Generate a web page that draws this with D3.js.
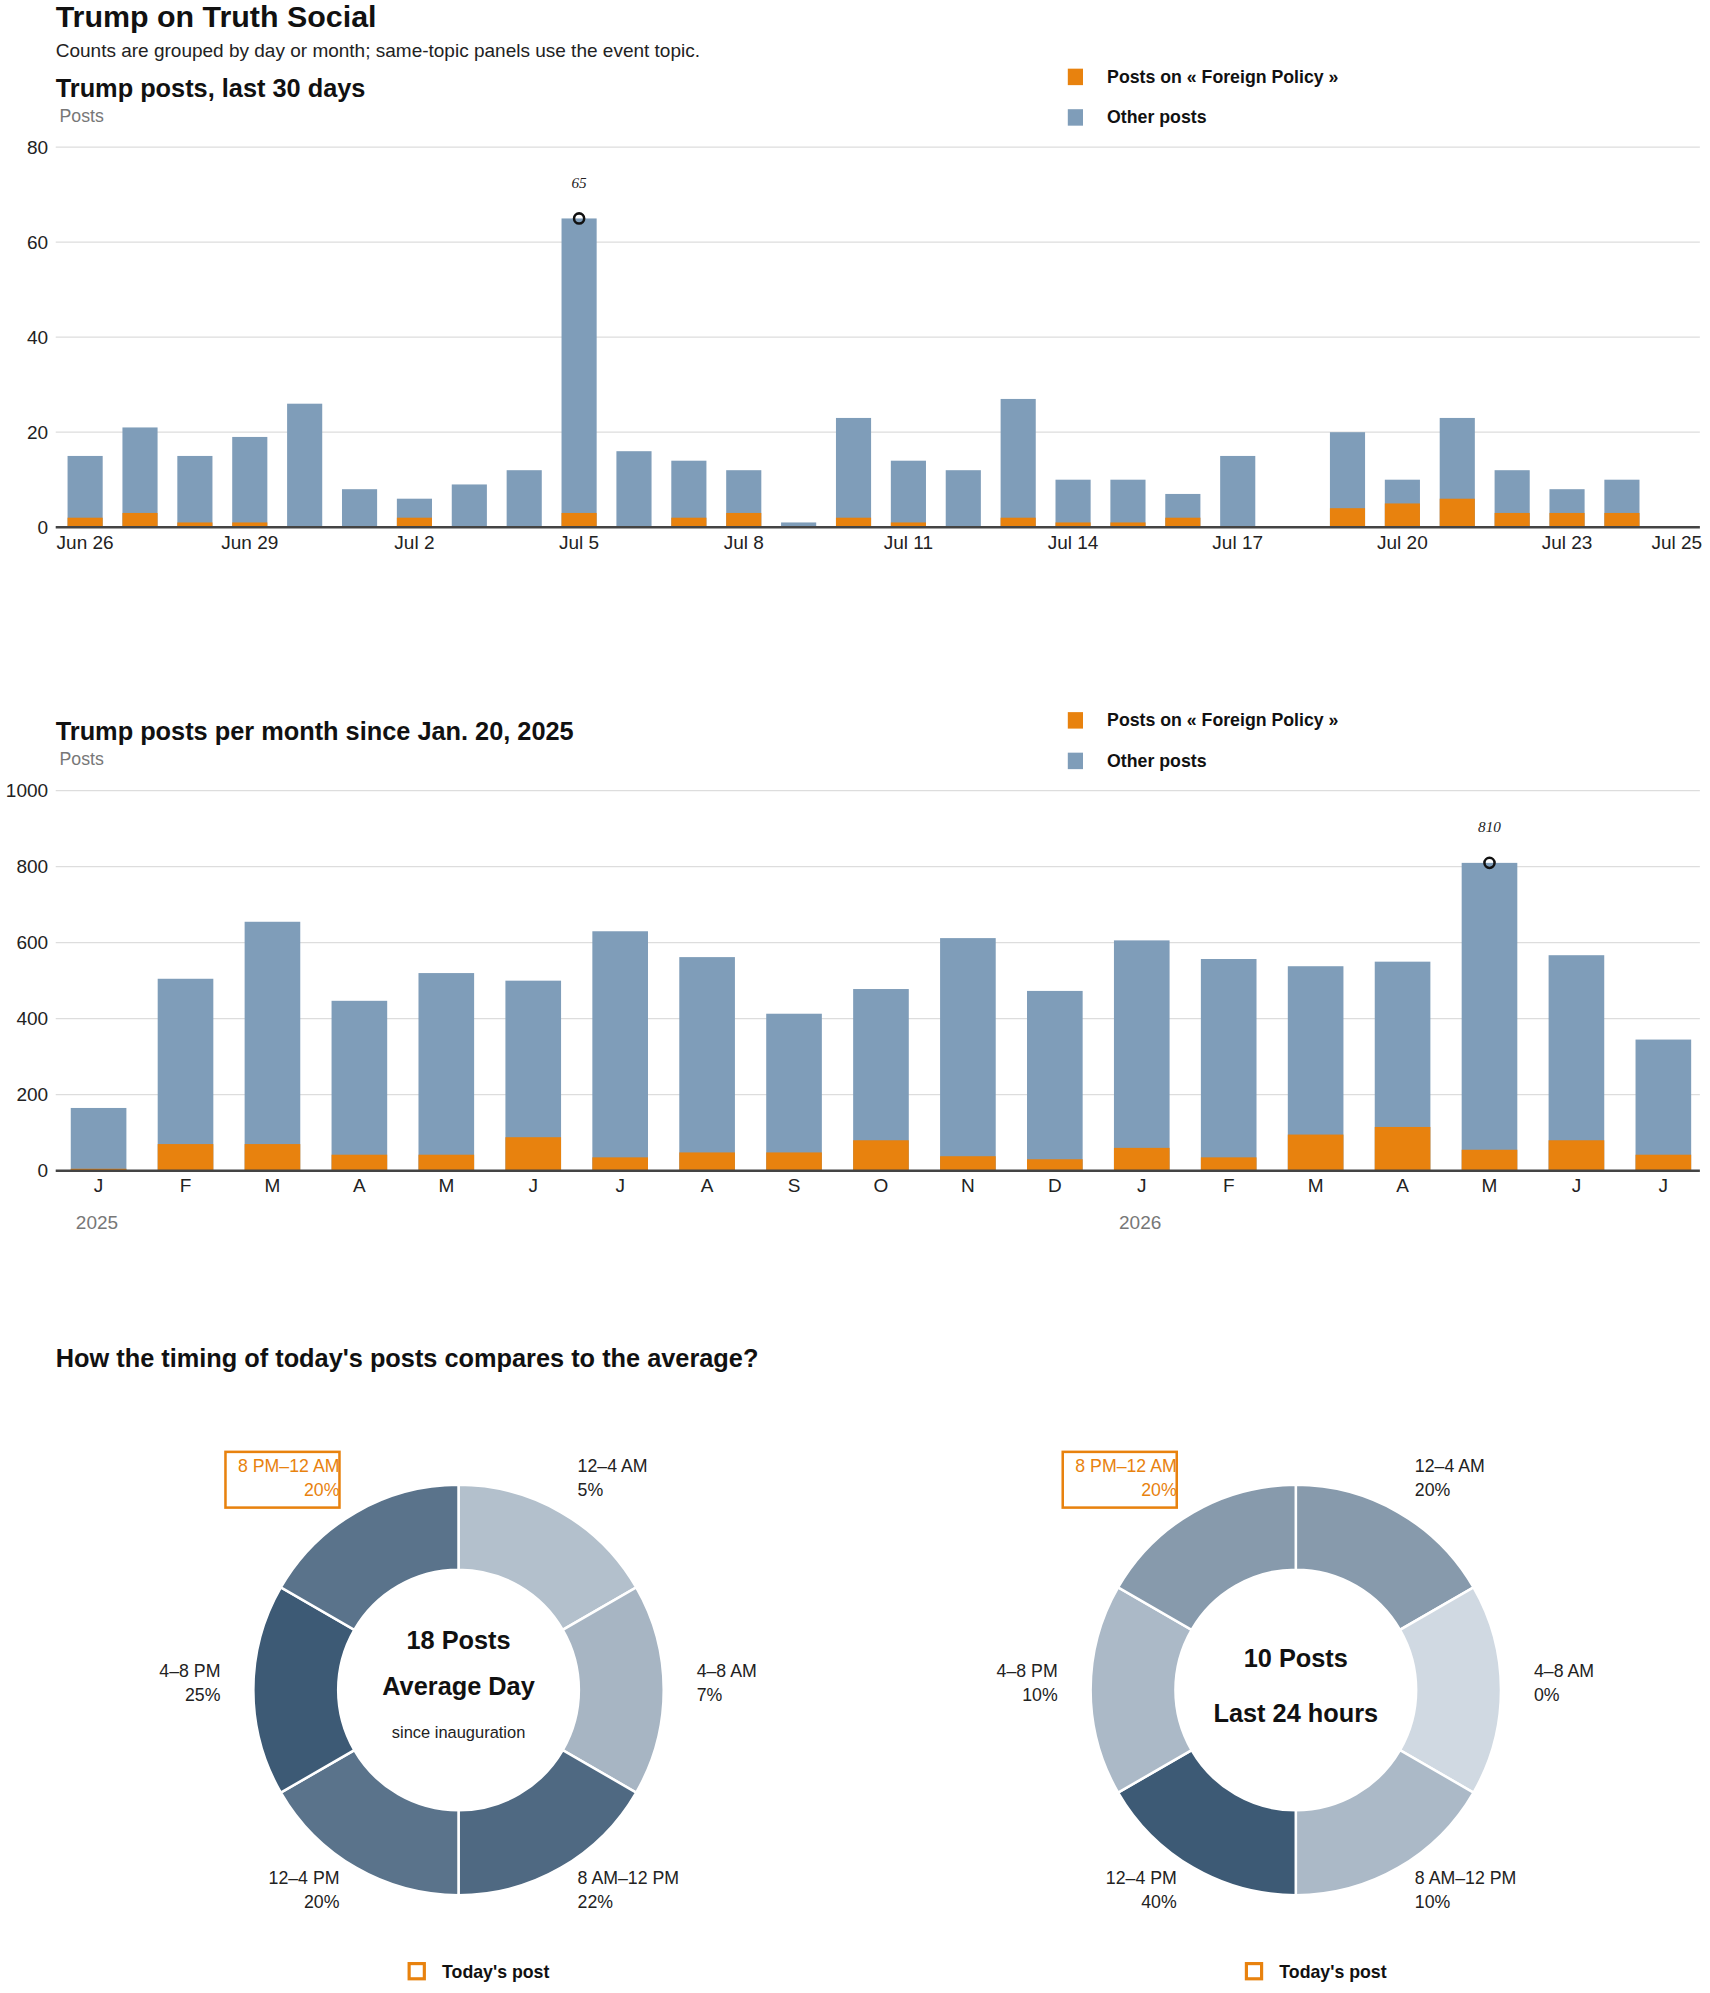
<!DOCTYPE html>
<html><head><meta charset="utf-8">
<script src="https://cdn.jsdelivr.net/npm/d3@7"></script>
<style>
body{margin:0;background:#fff}
text{font-family:"Liberation Sans Narrow","Liberation Sans",sans-serif;fill:#222}
.t{font-weight:bold;fill:#111}
</style></head><body>
<svg id="c" width="1710" height="1993" viewBox="0 0 1350 1573"></svg>
<script>
// daily posts, Jun 26 - Jul 25
const dayStart = new Date(2025, 5, 26);
const dailyTotal = [15,21,15,19,26,8,6,9,12,65,16,14,12,1,23,14,12,27,10,10,7,15,0,20,10,23,12,8,10,0];
const dailyTopic = [2,3,1,1,0,0,2,0,0,3,0,2,3,0,2,1,0,2,1,1,2,0,0,4,5,6,3,3,3,0];
const dayTicks = ["Jun 26","Jun 29","Jul 2","Jul 5","Jul 8","Jul 11","Jul 14","Jul 17","Jul 20","Jul 23","Jul 25"];
const dayTickIdx = [0,3,6,9,12,15,18,21,24,27,29];

// monthly posts since Jan 2025
const months = ["J","F","M","A","M","J","J","A","S","O","N","D","J","F","M","A","M","J","J"];
const monthTotal = [165,505,655,447,520,500,630,562,413,478,612,473,606,557,538,550,810,567,345];
const monthTopic = [5,70,70,42,42,88,35,48,48,80,38,30,60,35,95,115,55,80,42];

// timing donuts
const slots = ["12–4 AM","4–8 AM","8 AM–12 PM","12–4 PM","4–8 PM","8 PM–12 AM"];
const avgShare = [5,7,22,20,25,20];
const todayShare = [20,0,10,40,10,20];

const ORANGE = "#e8820e", BLUE = "#7f9db9";
const svg = d3.select("#c");

svg.append("text").attr("class","t").attr("x",44).attr("y",21).attr("font-size",24).text("Trump on Truth Social");
svg.append("text").attr("x",44).attr("y",45).attr("font-size",15).text("Counts are grouped by day or month; same-topic panels use the event topic.");

function legend(y){
  const g = svg.append("g");
  [[ORANGE,"Posts on « Foreign Policy »"],[BLUE,"Other posts"]].forEach((d,i)=>{
    g.append("rect").attr("x",843).attr("y",y+i*32-6).attr("width",12).attr("height",13).attr("fill",d[0]);
    g.append("text").attr("class","t").attr("x",874).attr("y",y+i*32+5).attr("font-size",14).text(d[1]);
  });
}

function barPanel(opts){
  const {title,top,bottom,ymax,ticks,labels,total,topic,tickLabels,peak} = opts;
  svg.append("text").attr("class","t").attr("x",44).attr("y",top-40).attr("font-size",20).text(title);
  svg.append("text").attr("x",47).attr("y",top-20).attr("font-size",14).attr("fill","#777").style("fill","#777").text("Posts");
  legend(top-56);
  const y = d3.scaleLinear().domain([0,ymax]).range([bottom,top]);
  const x = d3.scaleBand().domain(d3.range(total.length)).range([49,1342]).paddingInner(0.36).paddingOuter(0.1);
  svg.append("g").selectAll("line").data(ticks).join("line")
    .attr("x1",44).attr("x2",1342).attr("y1",d=>y(d)).attr("y2",d=>y(d)).attr("stroke","#ddd");
  svg.append("g").selectAll("text").data(ticks).join("text")
    .attr("x",38).attr("y",d=>y(d)+5).attr("text-anchor","end").attr("font-size",15).text(d=>d);
  svg.append("g").selectAll("rect").data(total).join("rect")
    .attr("x",(d,i)=>x(i)).attr("width",x.bandwidth()).attr("y",d=>y(d)).attr("height",d=>bottom-y(d)).attr("fill",BLUE);
  svg.append("g").selectAll("rect").data(topic).join("rect")
    .attr("x",(d,i)=>x(i)).attr("width",x.bandwidth()).attr("y",d=>y(d)).attr("height",d=>bottom-y(d)).attr("fill",ORANGE);
  svg.append("line").attr("x1",44).attr("x2",1342).attr("y1",bottom).attr("y2",bottom).attr("stroke","#444").attr("stroke-width",2);
  tickLabels.forEach(([i,t])=>{
    svg.append("text").attr("x",x(i)+x.bandwidth()/2).attr("y",bottom+17).attr("text-anchor","middle").attr("font-size",15).text(t);
  });
  const p = total.indexOf(d3.max(total));
  svg.append("circle").attr("cx",x(p)+x.bandwidth()/2).attr("cy",y(total[p])).attr("r",4).attr("fill","none").attr("stroke","#111").attr("stroke-width",2);
  svg.append("text").attr("x",x(p)+x.bandwidth()/2).attr("y",y(total[p])-24).attr("text-anchor","middle")
    .attr("font-size",12).attr("font-style","italic").style("font-family","Liberation Serif,serif").text(total[p]);
  return x;
}

barPanel({title:"Trump posts, last 30 days",top:116,bottom:416,ymax:80,ticks:[0,20,40,60,80],
  total:dailyTotal,topic:dailyTopic,tickLabels:dayTickIdx.map((d,i)=>[d,dayTicks[i]])});
const xm = barPanel({title:"Trump posts per month since Jan. 20, 2025",top:624,bottom:924,ymax:1000,ticks:[0,200,400,600,800,1000],
  total:monthTotal,topic:monthTopic,tickLabels:months.map((m,i)=>[i,m])});
[[0,"2025"],[12,"2026"]].forEach(([i,t])=>{
  svg.append("text").attr("x",xm(i)+4).attr("y",970).attr("font-size",15).style("fill","#777").text(t);
});

svg.append("text").attr("class","t").attr("x",44).attr("y",1079).attr("font-size",20).text("How the timing of today's posts compares to the average?");

function donut(cx,cy,shares,center){
  const g = svg.append("g").attr("transform",`translate(${cx},${cy})`);
  const col = d3.scaleLinear().domain([0,d3.max(shares)]).range(["#d0d9e2","#3d5a75"]);
  const arcs = d3.pie().value(1).sort(null)(shares);
  const arc = d3.arc().innerRadius(95).outerRadius(162);
  g.selectAll("path").data(arcs).join("path").attr("d",arc).attr("fill",d=>col(d.data)).attr("stroke","#fff").attr("stroke-width",2);
  const lp = [[94,-172,"start"],[188,-10,"start"],[94,153,"start"],[-94,153,"end"],[-188,-10,"end"],[-94,-172,"end"]];
  arcs.forEach((a,i)=>{
    const [lx,ly,an] = lp[i];
    const t = g.append("text").attr("x",lx).attr("y",ly).attr("text-anchor",an).attr("font-size",14);
    if(i===5) t.style("fill",ORANGE);
    t.append("tspan").attr("x",lx).text(slots[i]);
    t.append("tspan").attr("x",lx).attr("dy",19).text(a.data+"%");
    if(i===5) g.append("rect").attr("x",lx-90).attr("y",ly-16).attr("width",90).attr("height",44).attr("fill","none").attr("stroke",ORANGE).attr("stroke-width",2);
  });
  center.forEach(([t,y,s,b])=>{
    g.append("text").attr("class",b?"t":null).attr("y",y).attr("text-anchor","middle").attr("font-size",s).text(t);
  });
  svg.append("rect").attr("x",cx-39).attr("y",1550).attr("width",12).attr("height",12).attr("fill","none").attr("stroke",ORANGE).attr("stroke-width",2.5);
  svg.append("text").attr("class","t").attr("x",cx-13).attr("y",1561).attr("font-size",14).text("Today's post");
}
donut(362,1334,avgShare,[["18 Posts",-32,20,true],["Average Day",4,20,true],["since inauguration",38,13,false]]);
donut(1023,1334,todayShare,[["10 Posts",-18,20,true],["Last 24 hours",25,20,true]]);
</script></body></html>
